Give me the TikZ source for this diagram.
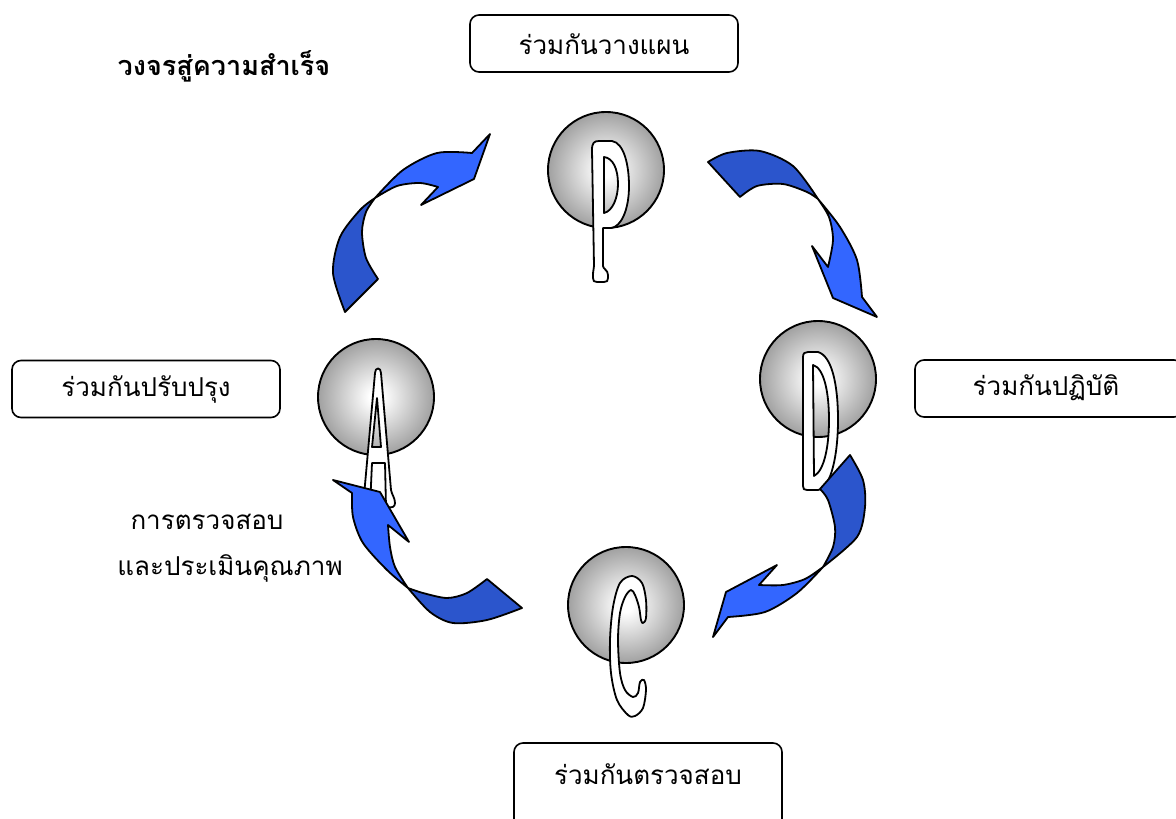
\documentclass[tikz,border=0pt]{standalone}
\usepackage{fontspec}
\newfontfamily\thai[Script=Thai]{Loma}
\definecolor{adark}{HTML}{2B55CC}
\definecolor{alight}{HTML}{3366FF}
\pgfdeclareradialshading{sph}{\pgfpoint{0bp}{0bp}}{color(0bp)=(white); color(3bp)=(white); color(25bp)=(black!37); color(50bp)=(black!37)}
\begin{document}
\begin{tikzpicture}[x=1pt,y=-1pt,
  box/.style={draw, rounded corners=9, line width=1.6, minimum width=268, minimum height=57, inner sep=0},
  txt/.style={font=\thai\fontsize{26}{30}\selectfont, inner sep=0},
  sphere/.style={circle, draw, line width=1.9, minimum size=116, inner sep=0, shading=sph},
  letter/.style={draw, fill=white, line width=1.8, even odd rule, line join=round},
  darkpart/.style={fill=adark, draw=black, line width=1.8, line join=round},
  lightpart/.style={fill=alight, draw=black, line width=1.8, line join=round}]
\useasboundingbox (0,0) rectangle (1176,819);
\clip (0,0) rectangle (1176,819);

% title
\node[font=\thai\bfseries\fontsize{27}{32}\selectfont, inner sep=0] (title) at (224,66) {วงจรสู่ความสำเร็จ};

% boxes
\node[box] (plan) at (604,43.5) {};
\node[txt] (planT) at (604,44) {ร่วมกันวางแผน};
\node[box] (do) at (1049,388.5) {};
\node[txt] (doT) at (1046,388) {ร่วมกันปฏิบัติ};
\node[box] (act) at (146,389) {};
\node[txt] (actT) at (146,389) {ร่วมกันปรับปรุง};
\node[box, minimum height=90] (check) at (648,788) {};
\node[txt] (checkT) at (648,774) {ร่วมกันตรวจสอบ};

% side text
\node[txt] (q1) at (207,522) {การตรวจสอบ};
\node[txt] (q2) at (230,568) {และประเมินคุณภาพ};

% spheres
\node[sphere] (sP) at (606,170) {};
\node[sphere] (sD) at (818,379) {};
\node[sphere] (sC) at (626,605) {};
\node[sphere] (sA) at (376,397) {};

% letter P
\draw[letter] (592,150) .. controls (592,143) and (594,141) .. (599,141) -- (612,141)
  .. controls (624,143) and (629,165) .. (629,186) .. controls (629,210) and (621,227) .. (611,228)
  -- (603,228) -- (603,266) .. controls (603,269) and (608,270) .. (608,275) -- (608,278)
  .. controls (608,281) and (607,282) .. (604,282) -- (597,282) .. controls (594,282) and (593,281) .. (593,278)
  -- (593,275) .. controls (593,270) and (594,269) .. (594,266) -- cycle
  (604,157) -- (604,213) .. controls (613,211) and (618,197) .. (618,184) .. controls (618,169) and (613,158) .. (604,157) -- cycle;

% letter D
\draw[letter] (803,357) .. controls (803,353) and (805,352) .. (808,352) -- (818,352)
  .. controls (832,356) and (838,385) .. (838,420) .. controls (838,455) and (831,488) .. (818,490)
  -- (807,490) .. controls (804,490) and (803,489) .. (803,486) -- cycle
  (813,365) -- (814,476) .. controls (824,471) and (829,447) .. (829,420) .. controls (829,392) and (824,368) .. (813,365) -- cycle;

% letter C
\draw[letter] plot[smooth cycle, tension=0.55] coordinates {
  (632,576) (620,583) (613,607) (610,640) (611,673) (617,700) (628,715) (635,716) (643,708)
  (646,690) (644,680) (640,682) (638,693) (633,697) (625,690) (620,673) (618,640) (620,613)
  (625,597) (631,590) (635,595) (639,607) (641,620) (643,623) (646,618) (646,600) (642,583)};

% letter A
\draw[letter] (375,373) .. controls (375,367) and (381,367) .. (381,373) -- (391,490)
  .. controls (392,495) and (395,498) .. (395,503) .. controls (395,507) and (392,508) .. (388,507)
  -- (386,507) -- (385,463) -- (372,463) -- (370,507) -- (363,507) -- cycle
  (377,398) -- (381,447) -- (372,447) -- cycle;

% arrow P -> D
\draw[darkpart] plot[smooth] coordinates {(708,162) (727,153) (760,151) (793,166) (818,199)}
  -- plot[smooth] coordinates {(818,199) (807,192) (783,184) (757,186) (740,197)} -- cycle;
\draw[lightpart] plot[smooth] coordinates {(818,199) (840,227) (857,260) (862,297)}
  -- (877,317) -- (833,298) -- (812,246)
  -- plot[smooth] coordinates {(828,267) (833,240) (829,217) (818,199)} -- cycle;

% arrow D -> C
\draw[darkpart] plot[smooth] coordinates {(850,455) (863,480) (865,507) (857,537) (823,567)}
  -- plot[smooth] coordinates {(823,567) (833,547) (835,527) (828,500) (820,489)} -- cycle;
\draw[lightpart] plot[smooth] coordinates {(823,567) (797,593) (765,612) (728,617)}
  -- (713,637) -- (726,592) -- (777,565)
  -- plot[smooth] coordinates {(759,585) (783,585) (805,579) (823,567)} -- cycle;

% arrow C -> A
\draw[darkpart] plot[smooth] coordinates {(522,608) (487,620) (453,623) (430,612) (408,588)}
  -- plot[smooth] coordinates {(408,588) (423,593) (447,598) (467,593) (487,579)} -- cycle;
\draw[lightpart] plot[smooth] coordinates {(408,588) (387,570) (363,543) (353,517) (352,493)}
  -- (333,480) -- (380,492) -- (409,542)
  -- plot[smooth] coordinates {(388,525) (390,547) (395,567) (408,588)} -- cycle;

% arrow A -> P
\draw[darkpart] plot[smooth] coordinates {(345,312) (333,273) (340,237) (360,210) (375,198)}
  -- plot[smooth] coordinates {(375,198) (366,212) (362,232) (366,258) (378,279)} -- cycle;
\draw[lightpart] plot[smooth] coordinates {(375,198) (403,170) (437,153) (472,153)}
  -- (490,134) -- (474,179) -- (421,205)
  -- plot[smooth] coordinates {(438,187) (420,183) (397,186) (375,198)} -- cycle;
\end{tikzpicture}
\end{document}
